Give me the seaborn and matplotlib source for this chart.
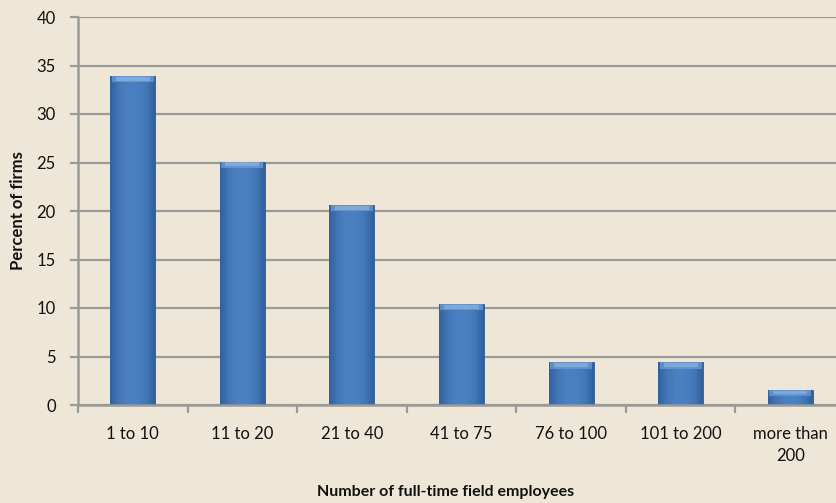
import numpy as np
import pandas as pd
import matplotlib
matplotlib.use("Agg")
import matplotlib.pyplot as plt
from matplotlib.colors import LinearSegmentedColormap
import seaborn as sns

# Share of firms by number of full-time field employees
categories = ["1 to 10", "11 to 20", "21 to 40", "41 to 75", "76 to 100",
              "101 to 200", "more than\n200"]
percent_of_firms = [33.9, 25.1, 20.6, 10.4, 4.4, 4.4, 1.5]
y_ticks = [0, 5, 10, 15, 20, 25, 30, 35, 40]

bg = "#EEE7D7"
grid_col = "#9A9A96"
bar_col = "#4A7EC0"

sns.set_theme(style="white")
plt.rcParams["font.family"] = ["Lato", "DejaVu Sans"]

fig = plt.figure(figsize=(8.37, 5.03), dpi=100, facecolor=bg)
ax = fig.add_axes([78 / 837, 98 / 503, 767 / 837, 388 / 503])
ax.set_facecolor(bg)

df = pd.DataFrame({"group": categories, "pct": percent_of_firms})
sns.barplot(data=df, x="group", y="pct", color=bar_col, width=0.41,
            saturation=1, ax=ax, zorder=3)

ax.set_xlim(-0.5, len(categories) - 0.5)
ax.set_ylim(0, 40)
ax.set_yticks(y_ticks)

# horizontal gradient + bevelled top on each bar
side_cmap = LinearSegmentedColormap.from_list(
    "side", ["#30609E", "#4477B8", "#4B80C2", "#4A80C2", "#4378B8", "#315F9C"])
grad = np.linspace(0, 1, 256).reshape(1, -1)
for p in ax.patches:
    x0, w = p.get_x(), p.get_width()
    y0, h = p.get_y(), p.get_height()
    p.set_edgecolor("#2E5A93")
    p.set_linewidth(0.6)
    im = ax.imshow(grad, cmap=side_cmap, aspect="auto", zorder=3.1,
                   extent=[x0, x0 + w, y0, y0 + h], interpolation="bicubic")
    im.set_clip_path(p)
    cap = min(0.65, h * 0.35)
    ax.fill_between([x0 + w * 0.03, x0 + w * 0.97], y0 + h - cap, y0 + h,
                    color="#6E9BD3", alpha=0.75, lw=0, zorder=3.2)
    ax.fill_between([x0 + w * 0.12, x0 + w * 0.88], y0 + h - cap * 0.7,
                    y0 + h - cap * 0.15, color="#93B8E4", alpha=0.6, lw=0,
                    zorder=3.3)
ax.set_xlim(-0.5, len(categories) - 0.5)
ax.set_ylim(0, 40)

# grid and spines
ax.yaxis.grid(True, color=grid_col, linewidth=1.6, zorder=0)
ax.set_axisbelow(True)
for s in ["top", "right"]:
    ax.spines[s].set_visible(False)
for s in ["left", "bottom"]:
    ax.spines[s].set_color(grid_col)
    ax.spines[s].set_linewidth(1.8)
    ax.spines[s].set_zorder(4)

ax.set_xticks(np.arange(-0.5, len(categories) - 0.4, 1), minor=True)
ax.tick_params(axis="x", which="major", length=0, pad=15, labelsize=12,
               labelcolor="#111111")
ax.tick_params(axis="x", which="minor", length=6, width=1.6, color=grid_col,
               bottom=True)
ax.tick_params(axis="y", which="major", length=6, width=1.6, color=grid_col,
               left=True, pad=10, labelsize=12, labelcolor="#111111")
ax.set_xticklabels(categories, linespacing=1.5)

ax.set_xlabel("")
ax.set_ylabel("")
fig.text(18 / 837, 1 - 211 / 503, "Percent of firms", rotation=90,
         ha="center", va="center", fontsize=12, fontweight="bold",
         color="#111111")
fig.text(446 / 837, 1 - 492 / 503, "Number of full-time field employees",
         ha="center", va="center", fontsize=11.5, fontweight="bold",
         color="#111111")

fig.savefig("out.png", dpi=100, facecolor=bg)
